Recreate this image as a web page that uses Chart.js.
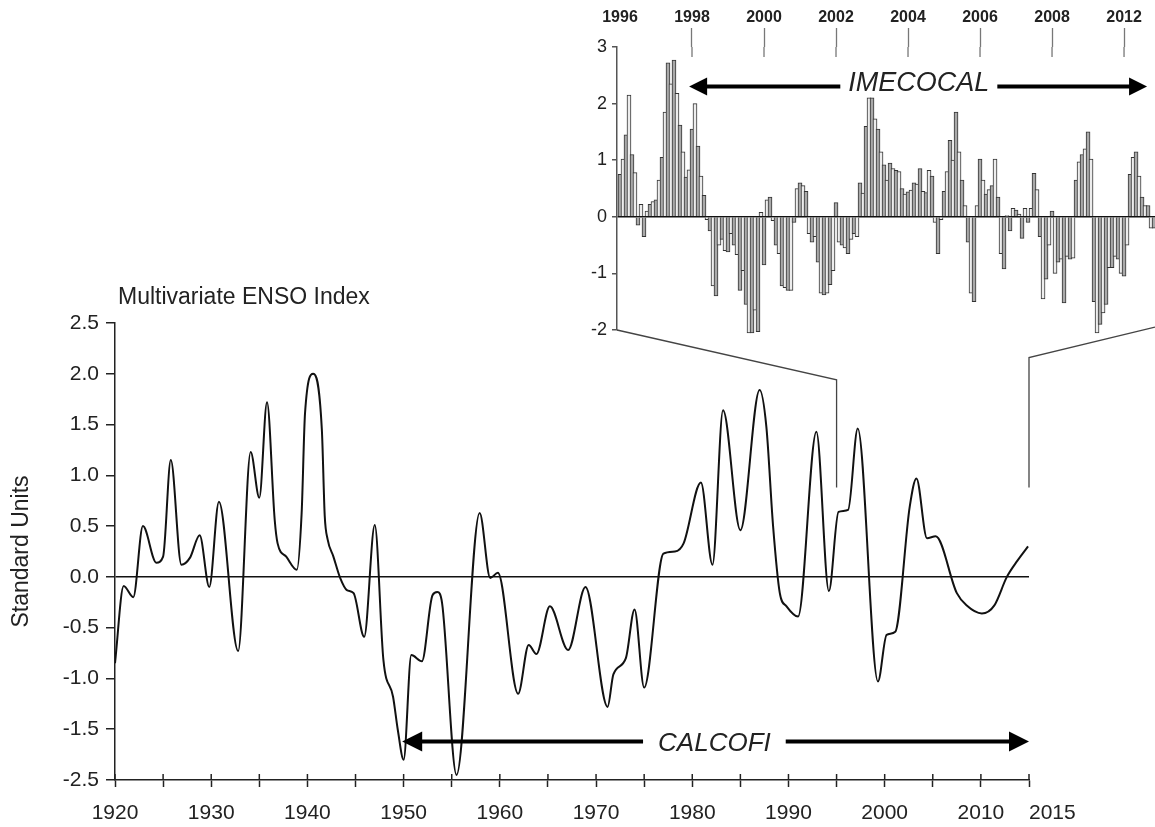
<!DOCTYPE html>
<html>
<head>
<meta charset="utf-8">
<script src="https://cdn.jsdelivr.net/npm/chart.js@4.4.1/dist/chart.umd.min.js"></script>
<style>
html,body{margin:0;padding:0;background:#fff;}
#wrap{position:relative;width:1155px;height:827px;overflow:hidden;background:#fff;}
#wrap canvas{position:absolute;left:0;top:0;}
</style>
</head>
<body>
<div id="wrap">
<canvas id="main" width="1155" height="827"></canvas>
<canvas id="inset" width="1155" height="827"></canvas>
</div>
<script>
// ---------------- Main chart: Multivariate ENSO Index (smoothed) ----------------
const mainTitle = 'Multivariate ENSO Index';
const mainYTitle = 'Standard Units';
const meiYears = [1920.0,1920.9,1921.9,1922.9,1924.3,1925.0,1925.8,1926.9,1927.8,1928.8,
  1929.8,1930.8,1932.8,1934.1,1935.0,1935.8,1936.6,1936.9,1937.8,1938.9,
  1939.4,1939.75,1940.6,1941.5,1941.8,1942.1,1942.7,1943.4,1944.1,1944.8,
  1945.9,1947.0,1947.9,1948.9,1949.4,1950.0,1950.8,1951.9,1953.0,1953.5,
  1954.0,1955.5,1957.9,1959.0,1959.8,1961.9,1963.0,1963.8,1965.2,1967.1,
  1968.9,1971.2,1971.8,1973.1,1974.0,1975.0,1977.0,1978.2,1979.1,1980.9,
  1982.1,1983.2,1985.0,1987.0,1987.7,1988.4,1989.1,1989.8,1991.0,1992.9,
  1994.2,1995.2,1996.2,1997.2,1999.3,2000.2,2001.1,2002.6,2003.3,2004.4,
  2005.3,2007.5,2008.5,2010.1,2011.4,2012.7,2013.8,2014.9];
const meiValues = [-0.85,-0.09,-0.20,0.50,0.14,0.20,1.15,0.12,0.19,0.41,
  -0.10,0.74,-0.73,1.23,0.78,1.72,0.56,0.33,0.20,0.07,
  0.63,1.61,2.00,1.45,0.60,0.37,0.20,-0.01,-0.13,-0.16,
  -0.59,0.51,-0.82,-1.18,-1.51,-1.80,-0.77,-0.83,-0.18,-0.15,
  -0.26,-1.95,0.63,-0.01,0.04,-1.15,-0.67,-0.76,-0.29,-0.72,
  -0.10,-1.28,-0.96,-0.80,-0.32,-1.09,0.23,0.25,0.33,0.93,
  0.12,1.64,0.46,1.84,1.48,0.50,-0.16,-0.29,-0.39,1.43,
  -0.14,0.64,0.66,1.46,-1.03,-0.57,-0.54,0.69,0.97,0.38,
  0.40,-0.16,-0.28,-0.36,-0.28,0.00,0.16,0.30];
const mainXTickYears  = [1920,1930,1940,1950,1960,1970,1980,1990,2000,2010,2015];
const mainXTickLabels = ['1920','1930','1940','1950','1960','1970','1980','1990','2000','2010','2015'];
const mainYTickValues = [-2,-1.5,-1,-0.5,0,0.5,1,1.5,2,2.5];
const mainYTickLabels = ['-2.5','-1.5','-1.0','-0.5','0.0','0.5','1.0','1.5','2.0','2.5'];
// CALCOFI arrow: from year, to year, level, label centre year
const calcofiArrow = {label:'CALCOFI', from:1949.85, to:2015, level:-1.62, labelAt:1982.3};

// ---------------- Inset: monthly MEI 1996 onward ----------------
const insetStartYear = 1996;
const insetMonthly = [
  0.75,1.02,1.45,2.15,1.1,0.78,-0.15,0.22,-0.35,0.1,0.22,0.27,
  0.3,0.65,1.05,1.85,2.72,2.35,2.77,2.18,1.62,1.15,0.7,0.83,
  1.55,2.0,1.25,0.72,0.38,-0.05,-0.25,-1.22,-1.4,-0.5,-0.4,-0.6,
  -0.62,-0.3,-0.5,-0.67,-1.3,-0.95,-1.55,-2.05,-2.05,-1.65,-2.03,0.08,
  -0.85,0.3,0.35,-0.07,-0.5,-0.65,-1.22,-1.25,-1.3,-1.3,-0.1,0.5,
  0.6,0.55,0.45,-0.3,-0.45,-0.35,-0.8,-1.35,-1.38,-1.35,-1.2,-0.95,
  0.25,-0.45,-0.5,-0.55,-0.65,-0.4,-0.3,-0.35,0.6,0.42,1.6,2.1,
  2.1,1.73,1.55,1.15,0.92,0.65,0.95,0.85,0.82,0.8,0.5,0.4,
  0.44,0.47,0.6,0.58,0.85,0.45,0.43,0.82,0.72,-0.1,-0.65,-0.05,
  0.45,0.8,1.35,1.0,1.85,1.15,0.65,0.2,-0.45,-1.35,-1.5,0.2,
  1.02,0.65,0.4,0.48,0.55,1.02,0.35,-0.65,-0.92,0.02,-0.25,0.15,
  0.12,0.05,-0.38,0.15,-0.1,0.15,0.77,0.48,-0.35,-1.45,-1.1,-0.5,
  0.1,-1.0,-0.8,-0.75,-1.52,-0.7,-0.75,-0.73,0.65,0.97,1.1,1.2,
  1.5,1.02,-1.5,-2.05,-1.9,-1.7,-1.55,-0.9,-0.9,-0.7,-0.75,-1.0,
  -1.05,-0.5,0.75,1.05,1.15,0.72,0.35,0.2,0.2,-0.2,-0.2];
const insetTickYears  = [1996,1998,2000,2002,2004,2006,2008,2010];
const insetTickLabels = ['1996','1998','2000','2002','2004','2006','2008','2012'];
const imecocalArrow = {label:'IMECOCAL', from:1997.92, to:2010.64, level:2.3, labelAt:2004.3};
// zoom connectors: inset corner (x, y) -> main chart year, top value, bottom value
const zoomLinks = [
  {insetX:1995.917, insetY:-2.0, year:1995, top:1.94, bottom:0.88},
  {insetX:2010.86,  insetY:-1.95, year:2015, top:2.16, bottom:0.88}
];

const FONT = '"Liberation Sans", Arial, Helvetica, sans-serif';
Chart.defaults.font.family = FONT;
Chart.defaults.color = '#222';

function drawArrow(ctx, xL, xR, y, gapL, gapR, head, half, lw){
  ctx.save();
  ctx.strokeStyle = '#000'; ctx.fillStyle = '#000'; ctx.lineWidth = lw; ctx.lineCap = 'butt';
  ctx.beginPath();
  ctx.moveTo(xL + head - 1, y); ctx.lineTo(gapL, y);
  ctx.moveTo(gapR, y); ctx.lineTo(xR - head + 1, y);
  ctx.stroke();
  ctx.beginPath(); ctx.moveTo(xL, y); ctx.lineTo(xL + head, y - half); ctx.lineTo(xL + head, y + half); ctx.closePath(); ctx.fill();
  ctx.beginPath(); ctx.moveTo(xR, y); ctx.lineTo(xR - head, y - half); ctx.lineTo(xR - head, y + half); ctx.closePath(); ctx.fill();
  ctx.restore();
}

const mainDecor = {
  id: 'mainDecor',
  afterDraw(chart){
    const {ctx, chartArea: a, scales: {x, y}} = chart;
    ctx.save();
    // inward half of the x tick marks
    ctx.strokeStyle = '#222'; ctx.lineWidth = 1.5;
    x.ticks.forEach(t => {
      const px = x.getPixelForValue(t.value);
      ctx.beginPath(); ctx.moveTo(px, a.bottom - 6); ctx.lineTo(px, a.bottom); ctx.stroke();
    });
    // title
    ctx.fillStyle = '#222';
    ctx.font = '23px ' + FONT;
    ctx.textAlign = 'left'; ctx.textBaseline = 'alphabetic';
    ctx.fillText(mainTitle, a.left + 3, a.top - 19);
    // CALCOFI arrow
    const yy = y.getPixelForValue(calcofiArrow.level);
    ctx.font = 'italic 26px ' + FONT;
    const tw = ctx.measureText(calcofiArrow.label).width;
    const cx = x.getPixelForValue(calcofiArrow.labelAt);
    drawArrow(ctx, x.getPixelForValue(calcofiArrow.from), x.getPixelForValue(calcofiArrow.to), yy,
              cx - tw/2 - 15, cx + tw/2 + 15, 20, 10, 4);
    ctx.fillStyle = '#222'; ctx.textAlign = 'center';
    ctx.fillText(calcofiArrow.label, cx, yy + 10);
    ctx.restore();
  }
};

const mainChart = new Chart(document.getElementById('main'), {
  type: 'line',
  data: {
    datasets: [{
      data: meiYears.map((yr, i) => ({x: yr, y: meiValues[i]})),
      borderColor: '#111', borderWidth: 2, pointRadius: 0, fill: false,
      cubicInterpolationMode: 'monotone'
    }]
  },
  options: {
    responsive: false, animation: false, devicePixelRatio: 1,
    layout: {padding: {left: 0, top: 323, right: 126, bottom: 0}},
    plugins: {legend: {display: false}, tooltip: {enabled: false}, title: {display: false}},
    scales: {
      x: {
        type: 'linear', min: 1920, max: 2015,
        afterFit: s => { s.height = 47; },
        ticks: {
          stepSize: 5, autoSkip: false, maxRotation: 0, minRotation: 0, padding: 14,
          color: '#222', font: {size: 21},
          callback: v => {
            const i = mainXTickYears.indexOf(v);
            if (i < 0) return '';
            return v === 2015 ? '        ' + mainXTickLabels[i] : mainXTickLabels[i];
          }
        },
        grid: {drawOnChartArea: false, tickLength: 7, tickColor: '#222', tickWidth: 1.5},
        border: {color: '#222', width: 1.5}
      },
      y: {
        min: -2, max: 2.5,
        afterFit: s => { s.width = 115; },
        ticks: {
          stepSize: 0.5, padding: 7, color: '#222', font: {size: 21},
          callback: v => {
            const i = mainYTickValues.indexOf(v);
            return i < 0 ? '' : mainYTickLabels[i];
          }
        },
        grid: {
          color: c => (c.tick && c.tick.value === 0) ? '#111' : 'rgba(0,0,0,0)',
          lineWidth: 1.5, tickColor: '#222', tickLength: 9, tickWidth: 1.5
        },
        border: {color: '#222', width: 1.5},
        title: {display: true, text: mainYTitle, color: '#222', font: {size: 23}, padding: {top: 8}}
      }
    }
  },
  plugins: [mainDecor]
});

const insetDecor = {
  id: 'insetDecor',
  afterDraw(chart){
    const {ctx, chartArea: a, scales: {x, y}} = chart;
    ctx.save();
    // lower part of the top tick marks (crossing into the plot)
    ctx.strokeStyle = '#777'; ctx.lineWidth = 1.3;
    insetTickYears.slice(1).forEach(v => {
      const px = x.getPixelForValue(v);
      ctx.beginPath(); ctx.moveTo(px, a.top); ctx.lineTo(px, a.top + 10); ctx.stroke();
    });
    // IMECOCAL arrow
    const yy = y.getPixelForValue(imecocalArrow.level);
    ctx.font = 'italic 27px ' + FONT;
    const tw = ctx.measureText(imecocalArrow.label).width;
    const cx = x.getPixelForValue(imecocalArrow.labelAt);
    drawArrow(ctx, x.getPixelForValue(imecocalArrow.from), x.getPixelForValue(imecocalArrow.to), yy,
              cx - tw/2 - 8, cx + tw/2 + 8, 18, 9, 4);
    ctx.fillStyle = '#222'; ctx.textAlign = 'center'; ctx.textBaseline = 'alphabetic';
    ctx.fillText(imecocalArrow.label, cx, yy + 4);
    // connectors to the main chart
    const mx = mainChart.scales.x, my = mainChart.scales.y;
    ctx.strokeStyle = '#444'; ctx.lineWidth = 1.3;
    zoomLinks.forEach(l => {
      const px = mx.getPixelForValue(l.year);
      ctx.beginPath();
      ctx.moveTo(x.getPixelForValue(l.insetX), y.getPixelForValue(l.insetY));
      ctx.lineTo(px, my.getPixelForValue(l.top));
      ctx.lineTo(px, my.getPixelForValue(l.bottom));
      ctx.stroke();
    });
    ctx.restore();
  }
};

const insetChart = new Chart(document.getElementById('inset'), {
  type: 'bar',
  data: {
    datasets: [{
      data: insetMonthly.map((v, i) => ({x: insetStartYear + i / 12, y: v})),
      backgroundColor: c => (c.dataIndex % 2) ? '#ededed' : '#a9a9a9',
      borderColor: '#333', borderWidth: 1, barThickness: 4, clip: false
    }]
  },
  options: {
    responsive: false, animation: false, devicePixelRatio: 1,
    layout: {padding: {left: 0, top: 0, right: 0, bottom: 497}},
    plugins: {legend: {display: false}, tooltip: {enabled: false}},
    scales: {
      x: {
        type: 'linear', position: 'top', min: 1995.917, max: 2010.86, offset: false,
        afterFit: s => { s.height = 47; },
        afterBuildTicks: s => { s.ticks = insetTickYears.map(v => ({value: v})); },
        ticks: {
          autoSkip: false, maxRotation: 0, minRotation: 0, padding: 1,
          color: '#222', font: {size: 16, weight: 'bold'},
          callback: (v, i) => insetTickLabels[i]
        },
        grid: {
          offset: false, drawOnChartArea: false, tickLength: 19, tickWidth: 1.3,
          tickColor: c => c.index === 0 ? 'rgba(0,0,0,0)' : '#777'
        },
        border: {display: false}
      },
      y: {
        min: -2, max: 3,
        afterFit: s => { s.width = 617; },
        ticks: {stepSize: 1, padding: 5, color: '#222', font: {size: 18}},
        grid: {
          color: c => (c.tick && c.tick.value === 0) ? '#111' : 'rgba(0,0,0,0)',
          lineWidth: 1.5, tickColor: '#555', tickLength: 5, tickWidth: 1.5
        },
        border: {color: '#555', width: 1.5}
      }
    }
  },
  plugins: [insetDecor]
});
</script>
</body>
</html>
